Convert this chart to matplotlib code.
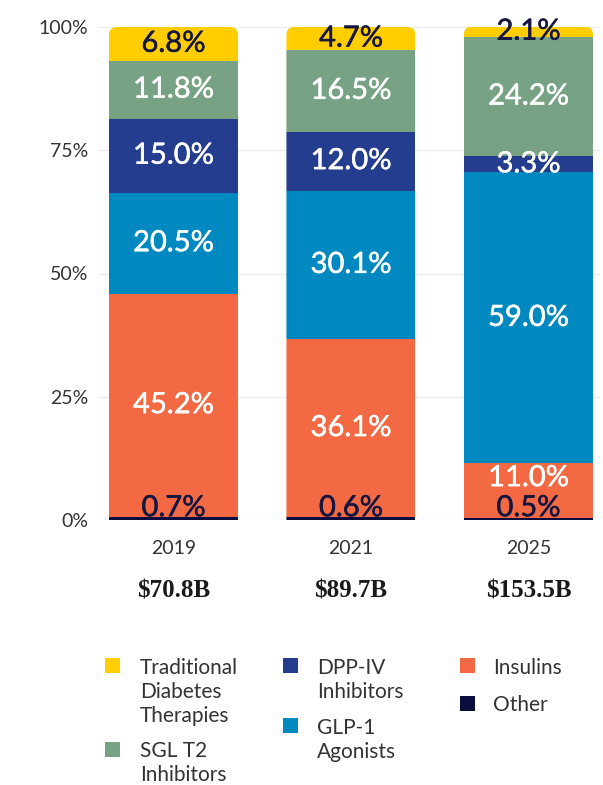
import matplotlib
matplotlib.use('Agg')
import matplotlib.pyplot as plt
from matplotlib.patches import FancyBboxPatch, Rectangle
import matplotlib.patheffects as pe

# ---- data ----
years = ['2019', '2021', '2025']
totals = ['$70.8B', '$89.7B', '$153.5B']
other = [0.7, 0.6, 0.5]
insulins = [45.2, 36.1, 11.0]
glp1 = [20.5, 30.1, 59.0]
dpp4 = [15.0, 12.0, 3.3]
sglt2 = [11.8, 16.5, 24.2]
traditional = [6.8, 4.7, 2.1]
yticks = [0, 25, 50, 75, 100]
legend_labels = ['Traditional\nDiabetes\nTherapies', 'SGL T2\nInhibitors',
                 'DPP-IV\nInhibitors', 'GLP-1\nAgonists', 'Insulins', 'Other']

# ---- styles ----
C_TRAD = '#FFCD00'
C_SGLT = '#77A283'
C_DPP = '#243D8E'
C_GLP = '#0089C0'
C_INS = '#F26944'
C_OTH = '#0B0D3F'
DARK = '#14163F'
FONT = 'Lato'

series = [other, insulins, glp1, dpp4, sglt2, traditional]
colors = [C_OTH, C_INS, C_GLP, C_DPP, C_SGLT, C_TRAD]
label_colors = [DARK, 'white', 'white', 'white', 'white', DARK]

W, H = 603, 785
fig = plt.figure(figsize=(W / 100, H / 100), dpi=100)
ax_l, ax_r, ax_t, ax_b = 98, 600, 27, 520
ax = fig.add_axes([ax_l / W, (H - ax_b) / H, (ax_r - ax_l) / W, (ax_b - ax_t) / H])

xlo, xhi = -0.425, 2.403
ax.set_xlim(xlo, xhi)
ax.set_ylim(0, 100)
px_per_x = (ax_r - ax_l) / (xhi - xlo)
px_per_y = (ax_b - ax_t) / 100.0
bw = 0.727
xs = list(range(len(years)))

ax.set_yticks(yticks)
ax.set_yticklabels([f'{v}%' for v in yticks], fontsize=14, color='#333333', family=FONT)
ax.tick_params(axis='y', length=0, pad=7)
ax.set_xticks([])
ax.yaxis.grid(True, color='#ebebeb', lw=1)
ax.set_axisbelow(True)
for s in ax.spines.values():
    s.set_visible(False)

# rounded-top clip for each bar
radius_px = 8
clips = []
for i, x in enumerate(xs):
    tot = sum(s[i] for s in series)
    clip = FancyBboxPatch((x - bw / 2, -30), bw, tot + 30,
                          boxstyle=f'round,pad=0,rounding_size={radius_px / px_per_x}',
                          mutation_aspect=(radius_px / px_per_y) / (radius_px / px_per_x),
                          transform=ax.transData)
    clips.append(clip)

bottoms = [0.0] * len(years)
for vals, col, lc in zip(series, colors, label_colors):
    bars = ax.bar(xs, vals, bottom=bottoms, width=bw, color=col, linewidth=0, zorder=3)
    for i, r in enumerate(bars):
        r.set_clip_path(clips[i])
        if vals is other:
            yl = 2.4
        else:
            yl = max(bottoms[i] + vals[i] / 2, 8.5)
        ax.text(xs[i], yl, f'{vals[i]:.1f}%', ha='center', va='center',
                fontsize=21, color=lc, family=FONT, zorder=5,
                path_effects=[pe.withStroke(linewidth=0.35, foreground=lc)])
    bottoms = [b + v for b, v in zip(bottoms, vals)]

# year and total labels
for i, x in enumerate(xs):
    ax.text(x, -(549 - ax_b) / px_per_y, years[i], ha='center', va='center',
            fontsize=14, color='#333333', family=FONT, clip_on=False)
    ax.text(x, -(591 - ax_b) / px_per_y, totals[i], ha='center', va='center',
            fontsize=18, fontweight='bold', color='#1a1a1a', family='Liberation Serif',
            clip_on=False)

# legend (manual, column-wise)
legend_colors = [C_TRAD, C_SGLT, C_DPP, C_GLP, C_INS, C_OTH]
legend_pos = [(105, 658, 140, 668), (105, 742, 140, 751),
              (283, 658, 317, 668), (283, 718, 317, 728),
              (460, 658, 493, 668), (460, 696, 493, 705)]
sq = 15
for lab, col, (sx, sy, tx, ty) in zip(legend_labels, legend_colors, legend_pos):
    fig.add_artist(Rectangle((sx / W, 1 - (sy + sq) / H), sq / W, sq / H,
                             transform=fig.transFigure, color=col, lw=0))
    fig.text(tx / W, 1 - (ty - 10) / H, lab, ha='left', va='top', fontsize=15,
             color='#333333', family=FONT, linespacing=1.24)

fig.savefig('out.png', dpi=100)
